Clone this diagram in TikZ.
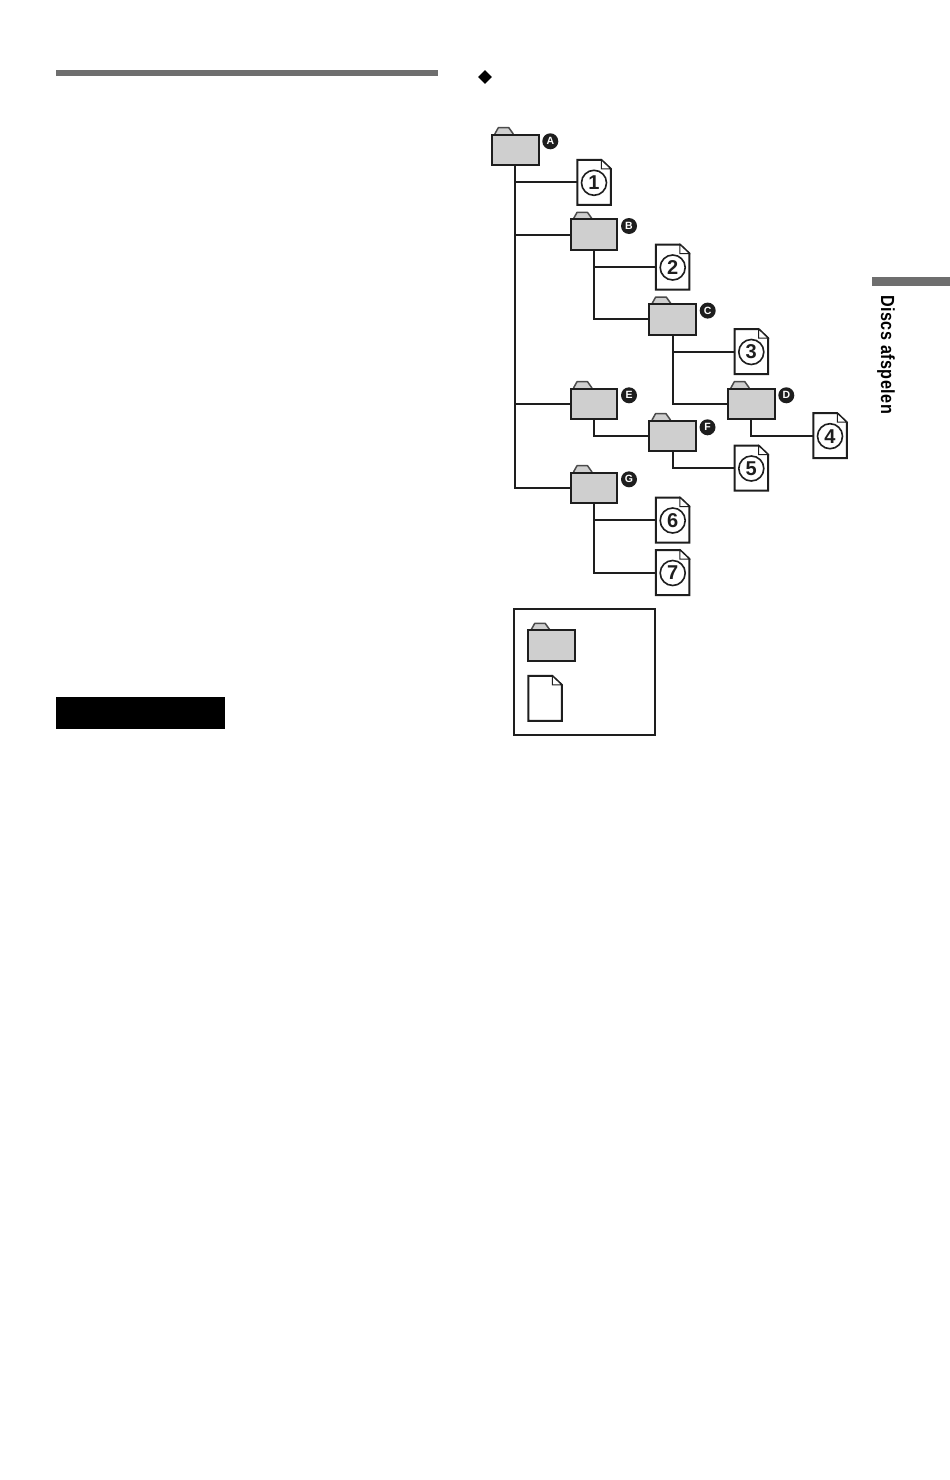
\documentclass[tikz,border=0pt]{standalone}
\usepackage{fontspec}
\setmainfont{Liberation Sans}
\usetikzlibrary{calc,shapes.geometric}
\definecolor{ink}{HTML}{1E1E1E}
\definecolor{foldergray}{HTML}{CFCFCF}
\definecolor{bargray}{HTML}{6E6E6E}
\tikzset{
  folderbody/.style={draw=ink,fill=foldergray,line width=2pt,minimum width=46.5pt,minimum height=30.5pt,inner sep=0pt,outer sep=0pt},
  foldertab/.style={draw=ink!80,fill=foldergray,line width=1.5pt,line join=round},
  filebody/.style={minimum width=33.5pt,minimum height=45pt,inner sep=0pt,outer sep=0pt},
  fileline/.style={draw=ink,fill=white,line width=2pt,line join=miter},
  foldline/.style={draw=ink,fill=white,line width=1pt},
  number/.style={circle,draw=ink,line width=1.6pt,minimum size=25pt,inner sep=0pt,text=ink,font=\fontsize{20}{20}\selectfont\bfseries},
  badge/.style={circle,fill=ink,minimum size=16pt,inner sep=0pt,text=white,font=\fontsize{10.5}{11}\selectfont\bfseries},
  link/.style={draw=ink,line width=2pt}
}
\newcommand{\folderat}[2]{%
  \draw[foldertab] ($(#2)+(-20.5,-16)$) -- ($(#2)+(-17,-22.3)$) -- ($(#2)+(-6.5,-22.3)$) -- ($(#2)+(-2,-16)$);
  \node[folderbody] (#1) at (#2) {};}
\newcommand{\fileat}[2]{%
  \node[filebody] (#1) at (#2) {};
  \path[fileline] (#1.north west) -- ($(#1.north east)+(-9.5,0)$) -- ($(#1.north east)+(0,9)$) -- (#1.south east) -- (#1.south west) -- cycle;
  \path[foldline] ($(#1.north east)+(-9.5,0)$) -- ($(#1.north east)+(-9.5,9)$) -- ($(#1.north east)+(0,9)$) -- cycle;}
\begin{document}
\begin{tikzpicture}[x=1pt,y=-1pt]
\useasboundingbox (0,0) rectangle (950,1480);
% page furniture
\fill[bargray] (56,70) rectangle (438,76);
\fill[black] (56,697) rectangle (225,729);
\fill[bargray] (872,277) rectangle (950,286);
\node[rotate=-90,anchor=base,inner sep=0pt,text=black] (side) at (881,354.5)
  {\scalebox{.85}[1]{\fontsize{19}{19}\selectfont\bfseries\addfontfeature{LetterSpace=3}Discs afspelen}};
\node[diamond,fill=black,minimum size=14pt,inner sep=0pt] (bullet) at (485,77) {};
% nodes
\fileat{f1}{594,182.3}
\fileat{f2}{672.7,267}
\fileat{f3}{751.3,351.5}
\fileat{f4}{830,435.7}
\fileat{f5}{751.3,468}
\fileat{f6}{672.7,520}
\fileat{f7}{672.7,572.5}
\folderat{A}{515.3,150}
\folderat{B}{594,234.7}
\folderat{C}{672.7,319.3}
\folderat{D}{751.3,404}
\folderat{E}{594,404}
\folderat{F}{672.5,436}
\folderat{G}{594,488}
% connectors
\draw[link] (A.south) |- (f1.west);
\draw[link] (A.south) |- (B.west);
\draw[link] (A.south) |- (E.west);
\draw[link] (A.south) |- (G.west);
\draw[link] (B.south) |- (f2.west);
\draw[link] (B.south) |- (C.west);
\draw[link] (C.south) |- (f3.west);
\draw[link] (C.south) |- (D.west);
\draw[link] (D.south) |- (f4.west);
\draw[link] (E.south) |- (F.west);
\draw[link] (F.south) |- (f5.west);
\draw[link] (G.south) |- (f6.west);
\draw[link] (G.south) |- (f7.west);
% circled numbers
\node[number] (n1) at ($(f1)+(0,.5)$) {1};
\node[number] (n2) at ($(f2)+(0,.5)$) {2};
\node[number] (n3) at ($(f3)+(0,.5)$) {3};
\node[number] (n4) at ($(f4)+(0,.5)$) {4};
\node[number] (n5) at ($(f5)+(0,.5)$) {5};
\node[number] (n6) at ($(f6)+(0,.5)$) {6};
\node[number] (n7) at ($(f7)+(0,.5)$) {7};
% badges
\node[badge] (bA) at ($(A)+(35,-8.7)$) {A};
\node[badge] (bB) at ($(B)+(35,-8.7)$) {B};
\node[badge] (bC) at ($(C)+(35,-8.7)$) {C};
\node[badge] (bD) at ($(D)+(35,-8.7)$) {D};
\node[badge] (bE) at ($(E)+(35,-8.7)$) {E};
\node[badge] (bF) at ($(F)+(35,-8.7)$) {F};
\node[badge] (bG) at ($(G)+(35,-8.7)$) {G};
% legend
\node[draw=ink,line width=2pt,fill=none,minimum width=141pt,minimum height=126pt,inner sep=0pt] (legend) at (584.3,672) {};
\folderat{lf}{551.7,645.7}
\fileat{lg}{545,698.3}
\end{tikzpicture}
\end{document}
